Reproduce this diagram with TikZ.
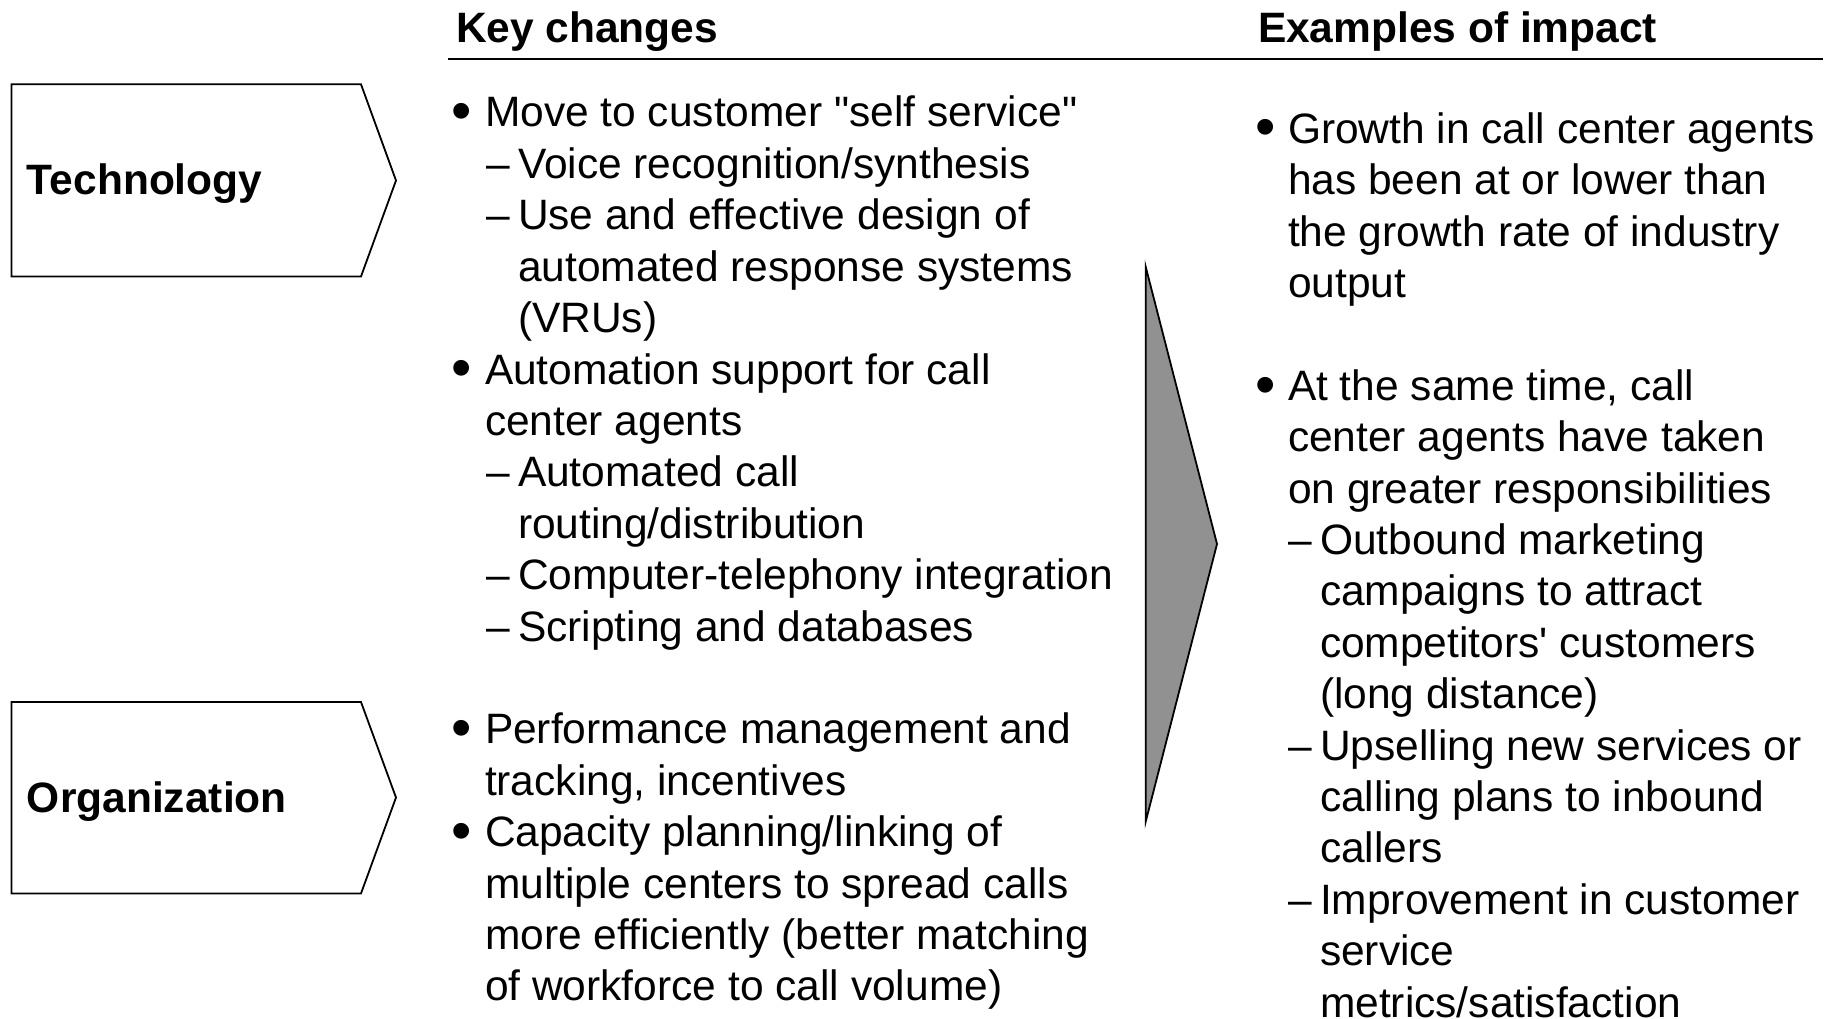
\documentclass[tikz,border=0pt]{standalone}
\usepackage{fontspec}
\setmainfont{Liberation Sans}
\begin{document}
\begin{tikzpicture}[x=1pt,y=-1pt,
  every node/.style={inner sep=0pt, outer sep=0pt},
  body/.style={anchor=base west, font=\fontsize{42.5}{51.4}\selectfont},
  head/.style={anchor=base west, font=\fontsize{42.5}{51.4}\selectfont\bfseries},
  bul/.style={anchor=base west, yshift=-3.8pt, font=\fontsize{58}{60}\selectfont},
  chevron/.style={draw=black, line width=1.8pt, fill=white, line join=miter},
  arrowfill/.style={draw=black, line width=1.8pt, fill=black!43, line join=miter},
  rule/.style={draw=black, line width=2.2pt}]
\useasboundingbox (0,0) rectangle (1835,1019);

% ---- column headers and rule ----
\node[head] (hkey) at (456,43) {Key changes};
\node[head] (himp) at (1258,43) {Examples of impact};
\coordinate (ruleL) at (448,59);
\coordinate (ruleR) at (1823,59);
\draw[rule] (ruleL) -- (ruleR);

% ---- category chevrons ----
\draw[chevron] (11.5,84.3) -- (361,84.3) -- (396,180.5) -- (361,276.5) -- (11.5,276.5) -- cycle;
\node[head] (tech) at (27,195) {Technology};
\draw[chevron] (11.5,702) -- (361,702) -- (396,797.5) -- (361,893.5) -- (11.5,893.5) -- cycle;
\node[head] (org) at (27,812) {Organization};

% ---- transition arrow ----
\draw[arrowfill] (1145.7,266.8) -- (1217,544) -- (1145.7,821.6) -- cycle;

% ---- key changes (left column) ----
\node[bul]  (lb1) at (451,127)   {•};
\node[body] (l0)  at (485,127)   {Move to customer \textquotedbl self service\textquotedbl};
\node[body] (ld1) at (486,178.4) {–};
\node[body] (l1)  at (518,178.4) {Voice recognition/synthesis};
\node[body] (ld2) at (486,229.8) {–};
\node[body] (l2)  at (518,229.8) {Use and effective design of};
\node[body] (l3)  at (518,281.2) {automated response systems};
\node[body] (l4)  at (518,332.6) {(VRUs)};
\node[bul]  (lb2) at (451,384)   {•};
\node[body] (l5)  at (485,384)   {Automation support for call};
\node[body] (l6)  at (485,435.4) {center agents};
\node[body] (ld3) at (486,486.8) {–};
\node[body] (l7)  at (518,486.8) {Automated call};
\node[body] (l8)  at (518,538.2) {routing/distribution};
\node[body] (ld4) at (486,589.6) {–};
\node[body] (l9)  at (518,589.6) {Computer-telephony integration};
\node[body] (ld5) at (486,641)   {–};
\node[body] (l10) at (518,641)   {Scripting and databases};

\node[bul]  (lb3) at (451,743.8) {•};
\node[body] (l12) at (485,743.8) {Performance management and};
\node[body] (l13) at (485,795.2) {tracking, incentives};
\node[bul]  (lb4) at (451,846.6) {•};
\node[body] (l14) at (485,846.6) {Capacity planning/linking of};
\node[body] (l15) at (485,898)   {multiple centers to spread calls};
\node[body] (l16) at (485,949.4) {more efficiently (better matching};
\node[body] (l17) at (485,1000.8) {of workforce to call volume)};

% ---- examples of impact (right column) ----
\begin{scope}[yshift=0.8pt]
\node[bul]  (rb1) at (1255,144)   {•};
\node[body] (r0)  at (1288,144)   {Growth in call center agents};
\node[body] (r1)  at (1288,195.4) {has been at or lower than};
\node[body] (r2)  at (1288,246.8) {the growth rate of industry};
\node[body] (r3)  at (1288,298.2) {output};
\node[bul]  (rb2) at (1255,401)   {•};
\node[body] (r5)  at (1288,401)   {At the same time, call};
\node[body] (r6)  at (1288,452.4) {center agents have taken};
\node[body] (r7)  at (1288,503.8) {on greater responsibilities};
\node[body] (rd1) at (1288.5,555.2) {–};
\node[body] (r8)  at (1320,555.2) {Outbound marketing};
\node[body] (r9)  at (1320,606.6) {campaigns to attract};
\node[body] (r10) at (1320,658)   {competitors\textquotesingle{} customers};
\node[body] (r11) at (1320,709.4) {(long distance)};
\node[body] (rd2) at (1288.5,760.8) {–};
\node[body] (r12) at (1320,760.8) {Upselling new services or};
\node[body] (r13) at (1320,812.2) {calling plans to inbound};
\node[body] (r14) at (1320,863.6) {callers};
\node[body] (rd3) at (1288.5,915)   {–};
\node[body] (r15) at (1320,915)   {Improvement in customer};
\node[body] (r16) at (1320,966.4) {service};
\node[body] (r17) at (1320,1017.8) {metrics/satisfaction};
\end{scope}
\end{tikzpicture}
\end{document}
